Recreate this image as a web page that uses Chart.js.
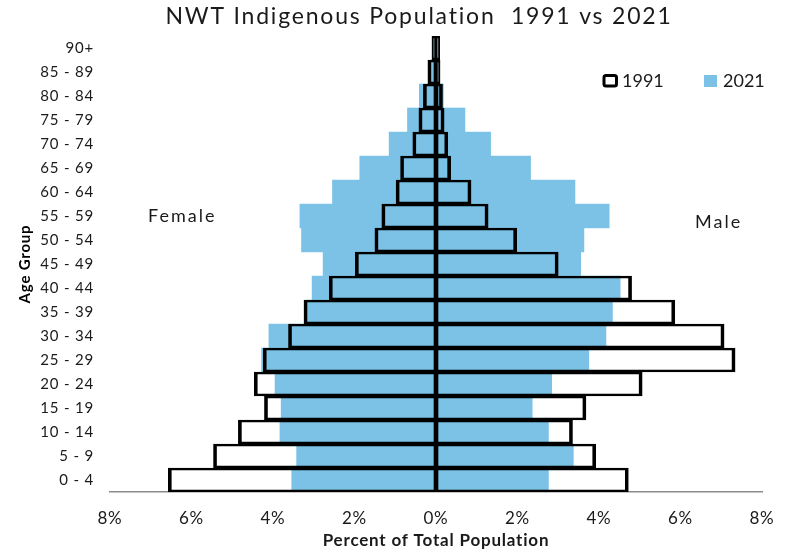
<!DOCTYPE html>
<html>
<head>
<meta charset="utf-8">
<title>NWT Indigenous Population 1991 vs 2021</title>
<script src="https://cdn.jsdelivr.net/npm/chart.js@4"></script>
<style>
  html, body { margin: 0; padding: 0; background: #ffffff; }
  #wrap { width: 785px; height: 552px; }
</style>
</head>
<body>
<div id="wrap"><canvas id="pyramid" width="785" height="552"></canvas></div>
<script>
// Age groups, youngest first (drawn bottom to top)
const ageGroups = ['0 - 4', '5 - 9', '10 - 14', '15 - 19', '20 - 24', '25 - 29', '30 - 34',
  '35 - 39', '40 - 44', '45 - 49', '50 - 54', '55 - 59', '60 - 64', '65 - 69',
  '70 - 74', '75 - 79', '80 - 84', '85 - 89', '90+'];

// Percent of total population, 1991
const female1991 = [6.57, 5.46, 4.85, 4.21, 4.46, 4.24, 3.62, 3.24, 2.62, 1.98,
  1.50, 1.33, 0.98, 0.87, 0.57, 0.42, 0.31, 0.20, 0.10];
const male1991 = [4.72, 3.92, 3.35, 3.68, 5.06, 7.34, 7.07, 5.86, 4.80, 3.00,
  1.98, 1.28, 0.86, 0.36, 0.29, 0.20, 0.16, 0.10, 0.09];

// Percent of total population, 2021
const female2021 = [3.54, 3.42, 3.83, 3.80, 3.95, 4.28, 4.10, 3.18, 3.04, 2.77,
  3.30, 3.34, 2.54, 1.87, 1.15, 0.70, 0.41, 0.14, 0.05];
const male2021 = [2.76, 3.37, 2.76, 2.36, 2.84, 3.75, 4.17, 4.33, 4.52, 3.55,
  3.63, 4.25, 3.41, 2.32, 1.34, 0.71, 0.18, 0.06, 0.03];

// Axis ticks
const percentTicks = [-8, -6, -4, -2, 0, 2, 4, 6, 8];

const BLUE = '#7bc2e6';
const FONT = 'Lato, "Open Sans", "Liberation Sans", sans-serif';

const neg = arr => arr.map(v => -v);

// Outlined 1991 bars sit on top of the filled 2021 bars
const outline = (outerSide) => ({
  backgroundColor: 'rgba(0,0,0,0)',
  borderColor: '#000000',
  borderWidth: outerSide === 'left'
    ? { top: 2, bottom: 2, left: 3, right: 2 }
    : { top: 2, bottom: 2, left: 2, right: 3 },
  borderSkipped: false,
  grouped: false,
  barPercentage: 1,
  categoryPercentage: 1
});
const filled = {
  backgroundColor: BLUE,
  borderWidth: 0,
  grouped: false,
  barPercentage: 1,
  categoryPercentage: 1
};

// Slightly open lettering for the axis texts
const spacing = {
  id: 'spacing',
  beforeDraw(chart) { chart.ctx.letterSpacing = '0.8px'; }
};

// Title, side labels and legend
const annotations = {
  id: 'annotations',
  afterDraw(chart) {
    const ctx = chart.ctx;
    ctx.save();
    ctx.fillStyle = '#1a1a1a';
    ctx.textBaseline = 'alphabetic';

    ctx.font = '23px ' + FONT;
    ctx.textAlign = 'center';
    ctx.letterSpacing = '1.8px';
    ctx.fillText('NWT Indigenous Population  1991 vs 2021', 419, 24);

    ctx.font = '18px ' + FONT;
    ctx.textAlign = 'left';
    ctx.letterSpacing = '2px';
    ctx.fillText('Female', 148, 222);
    ctx.fillText('Male', 695, 228);
    ctx.letterSpacing = '0px';

    // legend
    ctx.lineWidth = 3;
    ctx.strokeStyle = '#000000';
    ctx.fillStyle = '#ffffff';
    ctx.beginPath();
    ctx.roundRect(604, 75.5, 12.5, 10.5, 2);
    ctx.fill();
    ctx.stroke();
    ctx.fillStyle = BLUE;
    ctx.fillRect(704, 75, 13, 12);

    ctx.fillStyle = '#1a1a1a';
    ctx.font = '18px ' + FONT;
    ctx.fillText('1991', 622, 87);
    ctx.fillText('2021', 723, 87);
    ctx.restore();
  }
};

new Chart(document.getElementById('pyramid'), {
  type: 'bar',
  data: {
    labels: ageGroups,
    datasets: [
      Object.assign({ label: '1991 Female', data: neg(female1991) }, outline('left')),
      Object.assign({ label: '1991 Male', data: male1991 }, outline('right')),
      Object.assign({ label: '2021 Female', data: neg(female2021) }, filled),
      Object.assign({ label: '2021 Male', data: male2021 }, filled)
    ]
  },
  options: {
    indexAxis: 'y',
    responsive: false,
    animation: false,
    layout: { padding: { top: 36, right: 23, bottom: 0, left: 0 } },
    plugins: {
      legend: { display: false },
      title: { display: false },
      tooltip: { enabled: false }
    },
    scales: {
      x: {
        min: percentTicks[0],
        max: percentTicks[percentTicks.length - 1],
        afterBuildTicks(scale) {
          scale.ticks = percentTicks.map(v => ({ value: v }));
        },
        afterFit(scale) {
          scale.height = 60;
          scale.paddingLeft = 0;
          scale.paddingRight = 0;
        },
        grid: { display: false, drawTicks: false },
        border: { display: true, color: '#8c8c8c', width: 1.5 },
        ticks: {
          padding: 16,
          color: '#1a1a1a',
          font: { family: FONT, size: 17 },
          callback: v => Math.abs(v) + '%'
        },
        title: {
          display: true,
          text: 'Percent of Total Population',
          color: '#1a1a1a',
          font: { family: FONT, size: 17, weight: 'bold' },
          padding: { top: 0, bottom: 1 }
        }
      },
      y: {
        reverse: true,
        afterFit(scale) { scale.width = 110; },
        grid: { display: false, drawTicks: false },
        border: { display: false },
        ticks: {
          padding: 16,
          color: '#1a1a1a',
          font: { family: FONT, size: 15 }
        },
        title: {
          display: true,
          text: 'Age Group',
          color: '#000000',
          font: { family: FONT, size: 15, weight: 'bold' },
          padding: { top: 16, bottom: 0 }
        }
      }
    }
  },
  plugins: [spacing, annotations]
});
</script>
</body>
</html>
